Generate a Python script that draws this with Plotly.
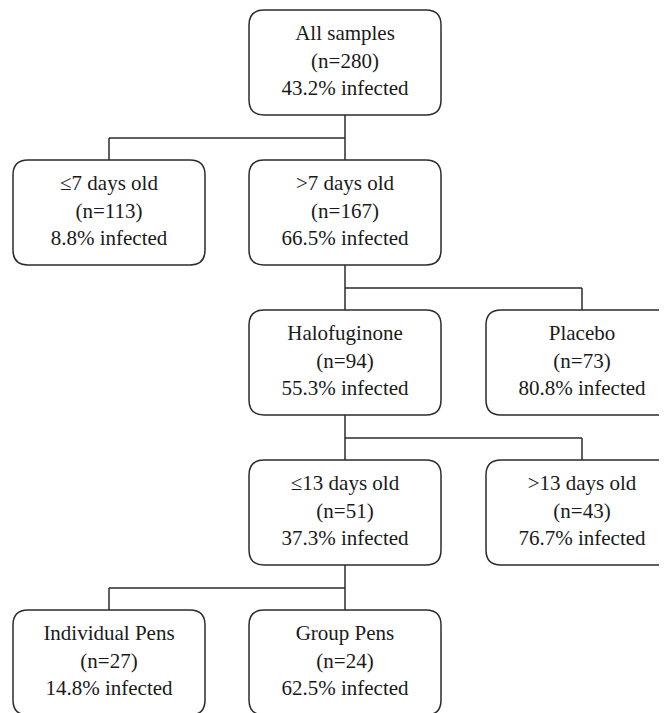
import plotly.graph_objects as go

# ---- data ----
node_labels = ["All samples", "\u22647 days old", ">7 days old", "Halofuginone", "Placebo",
               "\u226413 days old", ">13 days old", "Individual Pens", "Group Pens"]
node_n = [280, 113, 167, 94, 73, 51, 43, 27, 24]
node_pct_infected = [43.2, 8.8, 66.5, 55.3, 80.8, 37.3, 76.7, 14.8, 62.5]
node_parent = [None, 0, 0, 2, 2, 3, 3, 5, 5]

# ---- layout (tree grid) ----
node_level = [0, 1, 1, 2, 2, 3, 3, 4, 4]
node_col = [1, 0, 1, 1, 2, 1, 2, 0, 1]

W, H = 667, 713
OFF = 8  # page body margin
col_center = [109, 345, 582]
box_half_w = 96
box_h = 105
row_top0 = 10
row_step = 150
gap = 23
radius = 15
line_color = "#2b2b2b"
text_color = "#1a1a1a"

def box_geom(i):
    cx = col_center[node_col[i]]
    y0 = row_top0 + row_step * node_level[i]
    return cx, cx - box_half_w, cx + box_half_w, y0, y0 + box_h

shapes = []
for i in range(len(node_labels)):
    cx, x0, x1, y0, y1 = box_geom(i)
    r = radius
    path = (f"M {x0+r},{y0} L {x1-r},{y0} Q {x1},{y0} {x1},{y0+r} "
            f"L {x1},{y1-r} Q {x1},{y1} {x1-r},{y1} L {x0+r},{y1} "
            f"Q {x0},{y1} {x0},{y1-r} L {x0},{y0+r} Q {x0},{y0} {x0+r},{y0} Z")
    shapes.append(dict(type="path", path=path, xref="x", yref="y",
                       line=dict(color=line_color, width=1.5), fillcolor="white", layer="below"))

# connectors
for p in range(len(node_labels)):
    kids = [k for k, par in enumerate(node_parent) if par == p]
    if not kids:
        continue
    pcx, _, _, _, py1 = box_geom(p)
    hy = py1 + gap
    shapes.append(dict(type="line", xref="x", yref="y", x0=pcx, x1=pcx, y0=py1, y1=hy,
                       line=dict(color=line_color, width=1.5)))
    xs = [box_geom(k)[0] for k in kids] + [pcx]
    shapes.append(dict(type="line", xref="x", yref="y", x0=min(xs), x1=max(xs), y0=hy, y1=hy,
                       line=dict(color=line_color, width=1.5)))
    for k in kids:
        kcx, _, _, ky0, _ = box_geom(k)
        shapes.append(dict(type="line", xref="x", yref="y", x0=kcx, x1=kcx, y0=hy, y1=ky0,
                           line=dict(color=line_color, width=1.5)))

tx, ty, tt = [], [], []
for i in range(len(node_labels)):
    cx, x0, x1, y0, y1 = box_geom(i)
    tx.append(cx)
    ty.append((y0 + y1) / 2)
    tt.append(f"{node_labels[i]}<br>(n={node_n[i]})<br>{node_pct_infected[i]:.1f}% infected")

fig = go.Figure(go.Scatter(x=tx, y=ty, text=tt, mode="text", textposition="middle center",
                           textfont=dict(family="'Liberation Serif', 'Times New Roman', serif",
                                         size=21, color=text_color),
                           hoverinfo="skip", cliponaxis=False))
fig.update_layout(width=W, height=H, margin=dict(l=0, r=0, t=0, b=0),
                  paper_bgcolor="white", plot_bgcolor="white", showlegend=False,
                  shapes=shapes)
fig.update_xaxes(range=[OFF, W + OFF], visible=False, fixedrange=True)
fig.update_yaxes(range=[H + OFF, OFF], visible=False, fixedrange=True)
fig.write_html("out.html")
